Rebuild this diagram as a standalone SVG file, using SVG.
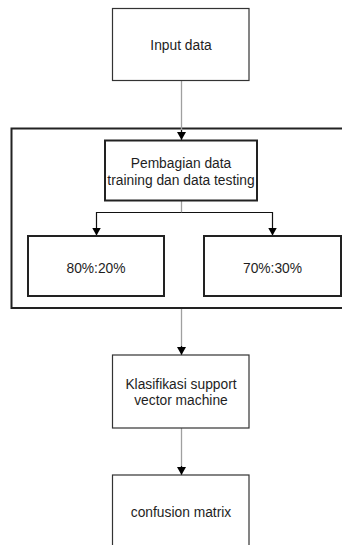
<svg xmlns="http://www.w3.org/2000/svg" width="342" height="545" viewBox="0 0 342 545">
<style>
.box{fill:#fff;stroke:#333;stroke-width:1.2}
.thick{fill:#fff;stroke:#222;stroke-width:2}
.outer{fill:none;stroke:#222;stroke-width:2}
.lbl{font-family:"Liberation Sans",Arial,sans-serif;font-size:13.8px;fill:#1e1e1e;text-anchor:middle}
.grey{fill:none;stroke:#a0a0a0;stroke-width:1.3}
.dark{fill:none;stroke:#111;stroke-width:1.2}
</style>
<defs>
<marker id="arr" markerUnits="userSpaceOnUse" markerWidth="10" markerHeight="10" refX="8" refY="4.5" orient="auto">
<path d="M0,0 L8,4.5 L0,9 Z" fill="#000"/>
</marker>
</defs>
<rect width="342" height="545" fill="#fff"/>
<g id="container">
<rect class="outer" x="11.5" y="128.5" width="345" height="179.5"/>
</g>
<g id="connectors">
<path class="grey" d="M181.5,80.5 V132" />
<path class="dark" d="M181.5,130 V140" marker-end="url(#arr)"/>
<path class="grey" d="M181.5,201 V212.5"/>
<path class="dark" d="M181.5,212.5 H96.5 V235.5" marker-end="url(#arr)"/>
<path class="dark" d="M181.5,212.5 H272.5 V235.5" marker-end="url(#arr)"/>
<path class="grey" d="M181.5,309 V350"/>
<path class="dark" d="M181.5,346 V355" marker-end="url(#arr)"/>
<path class="grey" d="M181.5,428 V470"/>
<path class="dark" d="M181.5,466 V475" marker-end="url(#arr)"/>
</g>
<g id="input">
<rect class="box" x="112.5" y="8.5" width="136.5" height="72"/>
<text class="lbl" x="181" y="50">Input data</text>
</g>
<g id="pembagian">
<rect class="thick" x="105" y="140.5" width="152" height="60"/>
<text class="lbl" x="181" y="167.5">Pembagian data</text>
<text class="lbl" x="181" y="184.5">training dan data testing</text>
</g>
<g id="p80">
<rect class="thick" x="28" y="236" width="136" height="60"/>
<text class="lbl" x="96" y="272.5">80%:20%</text>
</g>
<g id="p70">
<rect class="thick" x="204" y="236" width="137" height="60"/>
<text class="lbl" x="272.5" y="272.5">70%:30%</text>
</g>
<g id="klasifikasi">
<rect class="box" x="112.5" y="355" width="136.5" height="73"/>
<text class="lbl" x="181" y="388.5">Klasifikasi support</text>
<text class="lbl" x="181" y="404.5">vector machine</text>
</g>
<g id="confusion">
<rect class="box" x="112.5" y="475" width="136.5" height="85"/>
<text class="lbl" x="181" y="517">confusion matrix</text>
</g>
</svg>
